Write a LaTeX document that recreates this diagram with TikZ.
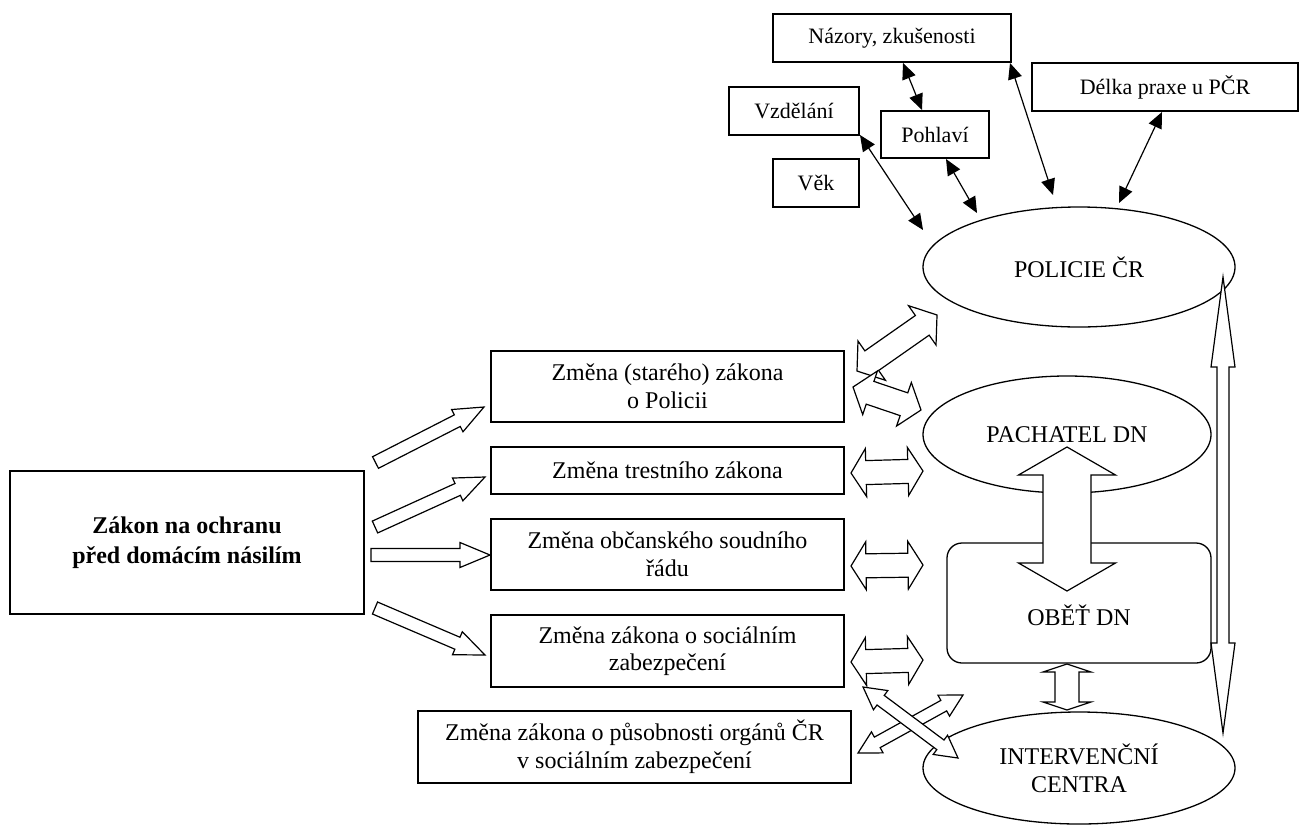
\documentclass[tikz,border=0pt]{standalone}
\usepackage{fontspec}
\setmainfont{Liberation Serif}
\usetikzlibrary{calc,shapes.geometric,arrows.meta}
\newcommand{\dblarr}[5]{%
  \path ($(#1)!#5!(#2)$) coordinate (tmpP) ($(#2)!#5!(#1)$) coordinate (tmpQ);
  \draw[blk] (#1) -- ($(tmpP)!#4!90:(#2)$) -- ($(tmpP)!#3!90:(#2)$) -- ($(tmpQ)!#3!-90:(#1)$) -- ($(tmpQ)!#4!-90:(#1)$) -- (#2) -- ($(tmpQ)!#4!90:(#1)$) -- ($(tmpQ)!#3!90:(#1)$) -- ($(tmpP)!#3!-90:(#2)$) -- ($(tmpP)!#4!-90:(#2)$) -- cycle;}
\newcommand{\sglarr}[5]{%
  \path ($(#2)!#5!(#1)$) coordinate (tmpQ);
  \draw[blk] ($(#1)!#3!-90:(#2)$) -- ($(#1)!#3!90:(#2)$) -- ($(tmpQ)!#3!-90:(#1)$) -- ($(tmpQ)!#4!-90:(#1)$) -- (#2) -- ($(tmpQ)!#4!90:(#1)$) -- ($(tmpQ)!#3!90:(#1)$) -- cycle;}
\begin{document}
\begin{tikzpicture}[x=1pt,y=-1pt,
  box/.style={draw,line width=1.3pt,inner sep=0pt,outer sep=0pt,align=center,fill=white,font=\fontsize{24}{27.6}\selectfont},
  topbox/.style={box,font=\fontsize{22}{25}\selectfont},
  ell/.style={box,ellipse},
  blk/.style={draw,line width=1.2pt,fill=white,line join=miter},
  thin/.style={line width=1.2pt,{Triangle[length=16pt,width=14pt]}-{Triangle[length=16pt,width=14pt]}}]
\useasboundingbox (0,0) rectangle (1300,825);
% top boxes
\node[topbox,minimum width=238pt,minimum height=48pt] (nazory) at (892,38) {Názory, zkušenosti};
\node[topbox,minimum width=266pt,minimum height=48pt] (delka) at (1165,87) {Délka praxe u PČR};
\node[topbox,minimum width=130pt,minimum height=48pt] (vzdel) at (794,111) {Vzdělání};
\node[topbox,minimum width=108pt,minimum height=47pt] (pohl) at (935,134.5) {Pohlaví};
\node[topbox,minimum width=86pt,minimum height=48pt] (vek) at (816,183) {Věk};
% main nodes
\node[box,minimum width=354pt,minimum height=143pt,font=\fontsize{24}{30}\selectfont\bfseries] (zakon) at (187,542.5) {Zákon na ochranu\\před domácím násilím};
\node[box,minimum width=353pt,minimum height=71pt] (b1) at (667.5,386.5) {Změna (starého) zákona\\o Policii};
\node[box,minimum width=353pt,minimum height=47pt] (b2) at (667.5,470.5) {Změna trestního zákona};
\node[box,minimum width=353pt,minimum height=71pt] (b3) at (667.5,554.5) {Změna občanského soudního\\řádu};
\node[box,minimum width=353pt,minimum height=72pt] (b4) at (667.5,651) {Změna zákona o sociálním\\zabezpečení};
\node[box,minimum width=433pt,minimum height=72pt] (b5) at (634.5,747) {Změna zákona o působnosti orgánů ČR\\v sociálním zabezpečení};
\node[ell,minimum width=312pt,minimum height=120pt] (policie) at (1079,267) {POLICIE ČR};
\node[ell,minimum width=288pt,minimum height=117pt] (pach) at (1067,434.5) {PACHATEL DN};
\node[box,rounded corners=15pt,minimum width=264pt,minimum height=120pt,text height=44pt,text depth=0pt] (obet) at (1079,603) {OBĚŤ DN};
\node[ell,minimum width=312pt,minimum height=112pt] (interv) at (1079,768) {INTERVENČNÍ\\CENTRA};
% thin arrow endpoints
\coordinate (t1a) at (903,63);   \coordinate (t1b) at (922,110);
\coordinate (t2a) at (1010,63);  \coordinate (t2b) at (1053,195);
\coordinate (t3a) at (1162,112); \coordinate (t3b) at (1119,203);
\coordinate (t4a) at (860,135);  \coordinate (t4b) at (923,230);
\coordinate (t5a) at (946,159);  \coordinate (t5b) at (977,213);
\draw[thin] (t1a) -- (t1b);
\draw[thin] (t2a) -- (t2b);
\draw[thin] (t3a) -- (t3b);
\draw[thin] (t4a) -- (t4b);
\draw[thin] (t5a) -- (t5b);
% left block arrows
\coordinate (l1a) at (375.5,462.5); \coordinate (l1b) at (484,407);
\coordinate (l2a) at (375,527);     \coordinate (l2b) at (485,477);
\coordinate (l3a) at (371,555);     \coordinate (l3b) at (490,555);
\coordinate (l4a) at (375,608);     \coordinate (l4b) at (485,655);
\sglarr{l1a}{l1b}{6.5pt}{12.5pt}{30pt}
\sglarr{l2a}{l2b}{6.5pt}{12.5pt}{30pt}
\sglarr{l3a}{l3b}{6.5pt}{12.5pt}{30pt}
\sglarr{l4a}{l4b}{6.5pt}{12.5pt}{30pt}
% right double block arrows
\coordinate (ra1) at (857,371); \coordinate (ra2) at (937,315);
\coordinate (rb1) at (853,387); \coordinate (rb2) at (921,410);
\coordinate (rc1) at (851,473); \coordinate (rc2) at (923,471);
\coordinate (rd1) at (851,566); \coordinate (rd2) at (923,565);
\coordinate (re1) at (851,662); \coordinate (re2) at (923,660);
\coordinate (rg1) at (858,753); \coordinate (rg2) at (963,695);
\coordinate (rf1) at (863,687); \coordinate (rf2) at (958,758);
\dblarr{ra1}{ra2}{12pt}{24pt}{18pt}
\dblarr{rb1}{rb2}{12pt}{23pt}{18pt}
\dblarr{rc1}{rc2}{12pt}{24pt}{15pt}
\dblarr{rd1}{rd2}{12pt}{24pt}{15pt}
\dblarr{re1}{re2}{12pt}{24pt}{15pt}
\dblarr{rg1}{rg2}{6pt}{12pt}{22pt}
\dblarr{rf1}{rf2}{6pt}{12pt}{22pt}
% vertical double arrows
\coordinate (po1) at (1067,447); \coordinate (po2) at (1067,591);
\coordinate (oi1) at (1067,664); \coordinate (oi2) at (1067,710);
\coordinate (pi1) at (1223,277); \coordinate (pi2) at (1223,733);
\dblarr{po1}{po2}{24pt}{48.5pt}{28pt}
\dblarr{oi1}{oi2}{12pt}{24pt}{8pt}
\dblarr{pi1}{pi2}{6pt}{12pt}{90pt}
\end{tikzpicture}
\end{document}
